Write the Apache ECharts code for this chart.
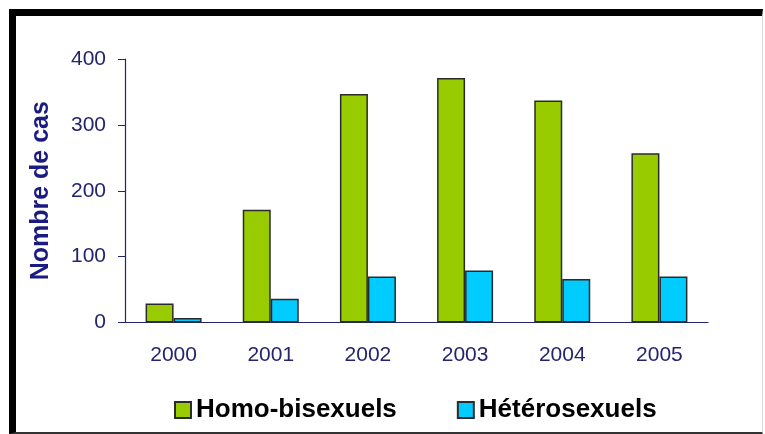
<!DOCTYPE html>
<html>
<head>
<meta charset="utf-8">
<script src="https://cdn.jsdelivr.net/npm/echarts@6/dist/echarts.min.js"></script>
<style>
  html, body { margin: 0; padding: 0; background: #fff; }
  #frame { position: absolute; left: 9px; top: 9px; width: 746px; height: 416px;
           border-left: 7px solid #000; border-top: 7px solid #000;
           border-right: 1px solid #d8d8d8; border-bottom: 2px solid #333; }
  #chart { position: absolute; left: 0; top: 0; width: 765px; height: 434px; }
</style>
</head>
<body>
<div id="frame"></div>
<div id="chart"></div>
<script>
const categories = ['2000', '2001', '2002', '2003', '2004', '2005'];
const homoBisexuels = [29, 171, 347, 371, 337, 257];
const heterosexuels = [7, 36, 70, 79, 66, 70];
const yTicks = { min: 0, max: 400, interval: 100 };
const seriesNames = ['Homo-bisexuels', 'Hétérosexuels'];

const chart = echarts.init(document.getElementById('chart'), null, { renderer: 'canvas' });
const navy = '#24246e';
const font = 'Liberation Sans, Arial, sans-serif';

chart.setOption({
  backgroundColor: 'transparent',
  animation: false,
  grid: { left: 125, right: 57, top: 59, bottom: 111.5, containLabel: false },
  legend: {
    left: 169, top: 392,
    itemWidth: 16, itemHeight: 16, itemGap: 60,
    icon: 'rect',
    textStyle: { fontFamily: font, fontWeight: 'bold', fontSize: 26, color: '#000' },
    data: seriesNames
  },
  xAxis: {
    type: 'category',
    data: categories,
    axisLine: { lineStyle: { color: navy, width: 1.2 } },
    axisTick: { show: false },
    axisLabel: { color: navy, fontFamily: font, fontSize: 21, margin: 22 }
  },
  yAxis: {
    type: 'value',
    min: yTicks.min, max: yTicks.max, interval: yTicks.interval,
    name: 'Nombre de cas',
    nameLocation: 'middle',
    nameGap: 71,
    nameRotate: 90,
    nameTextStyle: { color: '#1a1a80', fontFamily: font, fontWeight: 'bold', fontSize: 25 },
    axisLine: { show: true, lineStyle: { color: navy, width: 1.2 } },
    axisTick: { show: true, length: 7, lineStyle: { color: navy } },
    splitLine: { show: false },
    axisLabel: { color: navy, fontFamily: font, fontSize: 21, margin: 19 }
  },
  series: [
    {
      name: seriesNames[0], type: 'bar', data: homoBisexuels,
      barWidth: 28, barGap: '0%',
      itemStyle: { color: '#99cc00', borderColor: '#2b2b2b', borderWidth: 1.5 }
    },
    {
      name: seriesNames[1], type: 'bar', data: heterosexuels,
      barWidth: 28, barGap: '0%',
      itemStyle: { color: '#00ccff', borderColor: '#2b2b2b', borderWidth: 1.5 }
    }
  ]
});
</script>
</body>
</html>
